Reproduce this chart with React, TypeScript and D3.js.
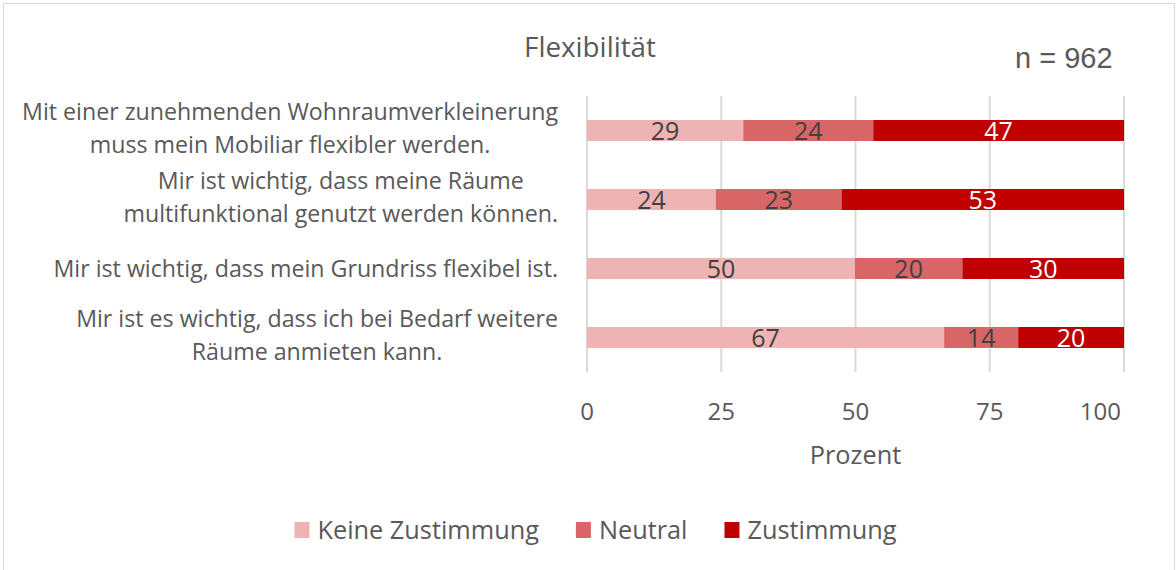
import React, { useEffect, useRef } from 'react';
import * as d3 from 'd3';

// rows (top to bottom), each label split the way the chart wraps it
const categories = [
  ['Mit einer zunehmenden Wohnraumverkleinerung', 'muss mein Mobiliar flexibler werden.'],
  ['Mir ist wichtig, dass meine Räume', 'multifunktional genutzt werden können.'],
  ['Mir ist wichtig, dass mein Grundriss flexibel ist.'],
  ['Mir ist es wichtig, dass ich bei Bedarf weitere', 'Räume anmieten kann.'],
];
const seriesNames = ['Keine Zustimmung', 'Neutral', 'Zustimmung'];
const keineZustimmung = [29.1, 24.0, 49.9, 66.5];
const neutral = [24.2, 23.4, 20.0, 13.8];
const zustimmung = [46.7, 52.6, 30.1, 19.7];
const xTicks = [0, 25, 50, 75, 100];

const colors = ['#EEB4B4', '#D86666', '#C00000'];
const labelColors = ['#404040', '#404040', '#ffffff'];
const FONT = '"Open Sans", "Noto Sans", sans-serif';
const GREY = '#595959';

export default function App() {
  const ref = useRef<SVGSVGElement | null>(null);

  useEffect(() => {
    const svg = d3.select(ref.current);
    svg.selectAll('*').remove();

    const W = 1176, H = 570;
    const x = d3.scaleLinear().domain([0, 100]).range([587, 1124]);
    const y = d3.scaleBand<number>()
      .domain(d3.range(categories.length))
      .range([96, 372])
      .paddingInner(0.696)
      .paddingOuter(0.348);

    // frame
    svg.append('rect')
      .attr('x', 3.5).attr('y', 3.5)
      .attr('width', W - 5).attr('height', H + 10)
      .attr('fill', '#fff').attr('stroke', '#d9d9d9');

    // grid
    svg.append('g').selectAll('line')
      .data(xTicks).enter().append('line')
      .attr('x1', d => x(d)).attr('x2', d => x(d))
      .attr('y1', 96).attr('y2', 372)
      .attr('stroke', '#d9d9d9').attr('stroke-width', 2);

    // stack
    const rows = categories.map((_, i) => ({
      i, k: keineZustimmung[i], n: neutral[i], z: zustimmung[i],
    }));
    const stack = d3.stack<any>().keys(['k', 'n', 'z'])(rows);

    stack.forEach((layer, si) => {
      const g = svg.append('g');
      g.selectAll('rect')
        .data(layer).enter().append('rect')
        .attr('x', d => x(d[0]))
        .attr('width', d => x(d[1]) - x(d[0]))
        .attr('y', d => y(d.data.i)!)
        .attr('height', y.bandwidth())
        .attr('fill', colors[si]);
      g.selectAll('text')
        .data(layer).enter().append('text')
        .attr('x', d => (x(d[0]) + x(d[1])) / 2)
        .attr('y', d => y(d.data.i)! + y.bandwidth() / 2)
        .attr('dy', '0.36em')
        .attr('text-anchor', 'middle')
        .style('font-family', FONT)
        .style('font-size', '25px')
        .style('fill', labelColors[si])
        .text(d => d3.format('.0f')(d[1] - d[0]));
    });

    // category labels: block right-aligned, lines centred in the block
    categories.forEach((lines, i) => {
      const cy = y(i)! + y.bandwidth() / 2 - (lines.length > 1 ? 2 : 0);
      const lh = 33;
      const g = svg.append('g');
      const texts = lines.map((ln, j) =>
        g.append('text')
          .attr('y', cy + (j - (lines.length - 1) / 2) * lh)
          .attr('dy', '0.36em')
          .attr('text-anchor', 'middle')
          .style('font-family', FONT)
          .style('font-size', '23.2px')
          .style('fill', GREY)
          .text(ln));
      const maxW = d3.max(texts, t => (t.node() as SVGTextElement).getComputedTextLength()) || 0;
      texts.forEach(t => t.attr('x', 558 - maxW / 2));
    });

    // x axis labels (last one kept inside the plot)
    svg.append('g').selectAll('text')
      .data(xTicks).enter().append('text')
      .attr('x', (d, i) => i === xTicks.length - 1 ? x(d) - 3 : x(d)).attr('y', 411)
      .attr('dy', '0.36em')
      .attr('text-anchor', (d, i) => i === xTicks.length - 1 ? 'end' : 'middle')
      .style('font-family', FONT).style('font-size', '24px')
      .style('fill', GREY)
      .text(d => d);

    svg.append('text')
      .attr('x', x(50)).attr('y', 455).attr('dy', '0.36em')
      .attr('text-anchor', 'middle')
      .style('font-family', FONT).style('font-size', '25.3px')
      .style('fill', GREY)
      .text('Prozent');

    // title + n
    svg.append('text')
      .attr('x', 590).attr('y', 47).attr('dy', '0.36em')
      .attr('text-anchor', 'middle')
      .style('font-family', FONT).style('font-size', '27.8px')
      .style('fill', GREY)
      .text('Flexibilität');

    svg.append('text')
      .attr('x', 1015).attr('y', 58).attr('dy', '0.36em')
      .style('font-family', '"Liberation Sans", Arial, sans-serif').style('font-size', '29px')
      .style('fill', GREY)
      .text('n = 962');

    // legend, centred under the chart
    const leg = svg.append('g');
    const items = seriesNames.map((name, i) => {
      const g = leg.append('g');
      g.append('rect')
        .attr('x', 0).attr('y', -8).attr('width', 15).attr('height', 16)
        .attr('fill', colors[i]);
      const t = g.append('text')
        .attr('x', 23).attr('y', 0).attr('dy', '0.36em')
        .style('font-family', FONT).style('font-size', '25.3px')
        .style('fill', GREY)
        .text(name);
      const w = 23 + (t.node() as SVGTextElement).getComputedTextLength();
      return { g, w };
    });
    const gap = 37;
    const total = d3.sum(items, d => d.w) + gap * (items.length - 1);
    let cx = 595.5 - total / 2;
    items.forEach(it => {
      it.g.attr('transform', `translate(${cx}, 530)`);
      cx += it.w + gap;
    });
  }, []);

  return (
    <div style={{ position: 'absolute', left: 0, top: 0 }}>
      <svg ref={ref} width={1176} height={570} style={{ display: 'block' }} />
    </div>
  );
}
